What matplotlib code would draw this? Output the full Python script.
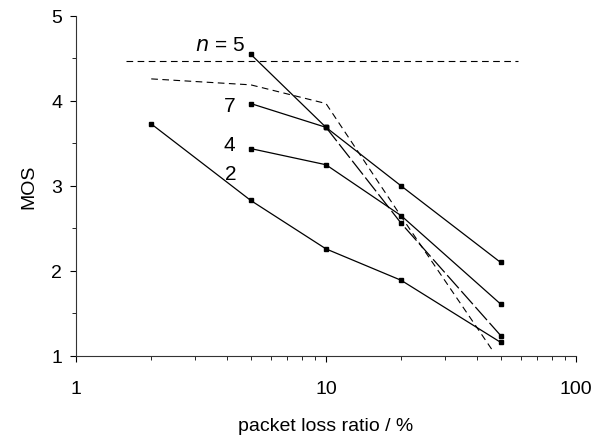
import numpy as np
import matplotlib
matplotlib.use("Agg")
import matplotlib.pyplot as plt
from matplotlib.ticker import LogLocator, FixedLocator, NullFormatter

plt.rcParams['font.family'] = ['Liberation Sans', 'DejaVu Sans']

# packet loss ratio (%) and MOS per series
loss = [2, 5, 10, 20, 50]
mos_n2 = [3.73, 2.83, 2.26, 1.89, 1.16]
mos_n4 = [3.44, 3.25, 2.65, 1.61]
mos_n7 = [3.97, 3.69, 3.00, 2.10]
mos_n5 = [4.55, 3.69, 2.56, 1.24]

# dashed reference curves
ref_top_x = [1.58, 58.6]
ref_top_y = [4.47, 4.47]
ref_curve_x = [2, 5, 10, 20, 46]
ref_curve_y = [4.26, 4.19, 3.97, 2.64, 1.08]

labels = ['$n$ = 5', '7', '4', '2']
label_x = [4.74, 4.33, 4.33, 4.4]
label_y = [4.67, 3.95, 3.49, 3.15]

fig = plt.figure(figsize=(5.97, 4.39), dpi=100)
ax = fig.add_axes([0.1273, 0.1868, 0.8375, 0.7745])

lw = 0.9
ax.plot(loss, mos_n2, '-', color='black', lw=lw, marker='s', ms=2.2)
ax.plot(loss[1:], mos_n4, '-', color='black', lw=lw, marker='s', ms=2.2)
ax.plot(loss[1:], mos_n7, '-', color='black', lw=lw, marker='s', ms=2.2)
ax.plot(loss[1:3], mos_n5[:2], '-', color='black', lw=lw, marker='s', ms=2.2)
ax.plot(loss[2:], mos_n5[1:], color='black', lw=lw, marker='s', ms=2.2,
        dashes=(14, 3))

ax.plot(ref_top_x, ref_top_y, color='black', lw=0.8, dashes=(6, 4))
ax.plot(ref_curve_x, ref_curve_y, color='black', lw=0.8, dashes=(6, 4))

for txt, x, y in zip(labels, label_x, label_y):
    ax.text(x, y, txt, ha='right', va='center', fontsize=15)

ax.set_xscale('log')
ax.set_xlim(1, 100)
ax.set_ylim(1, 5)
ax.xaxis.set_major_locator(FixedLocator([1, 10, 100]))
ax.xaxis.set_minor_locator(LogLocator(base=10, subs=np.arange(2, 10)))
ax.xaxis.set_minor_formatter(NullFormatter())
ax.set_xticklabels(['1', '10', '100'])
ax.yaxis.set_major_locator(FixedLocator([1, 2, 3, 4, 5]))
ax.yaxis.set_minor_locator(FixedLocator([1.5, 2.5, 3.5, 4.5]))

for s in ['top', 'right']:
    ax.spines[s].set_visible(False)
for s in ['left', 'bottom']:
    ax.spines[s].set_linewidth(0.8)
    ax.spines[s].set_color('#333333')

ax.tick_params(which='major', direction='out', length=4, width=0.8, labelsize=14)
ax.tick_params(which='minor', direction='out', length=3, width=0.6)
ax.tick_params(axis='x', which='major', pad=13)
ax.tick_params(axis='y', which='major', pad=6)

ax.set_xlabel('packet loss ratio / %', fontsize=14, labelpad=15)
ax.set_ylabel('MOS', fontsize=14, labelpad=10)

fig.savefig('out.png', dpi=100)
